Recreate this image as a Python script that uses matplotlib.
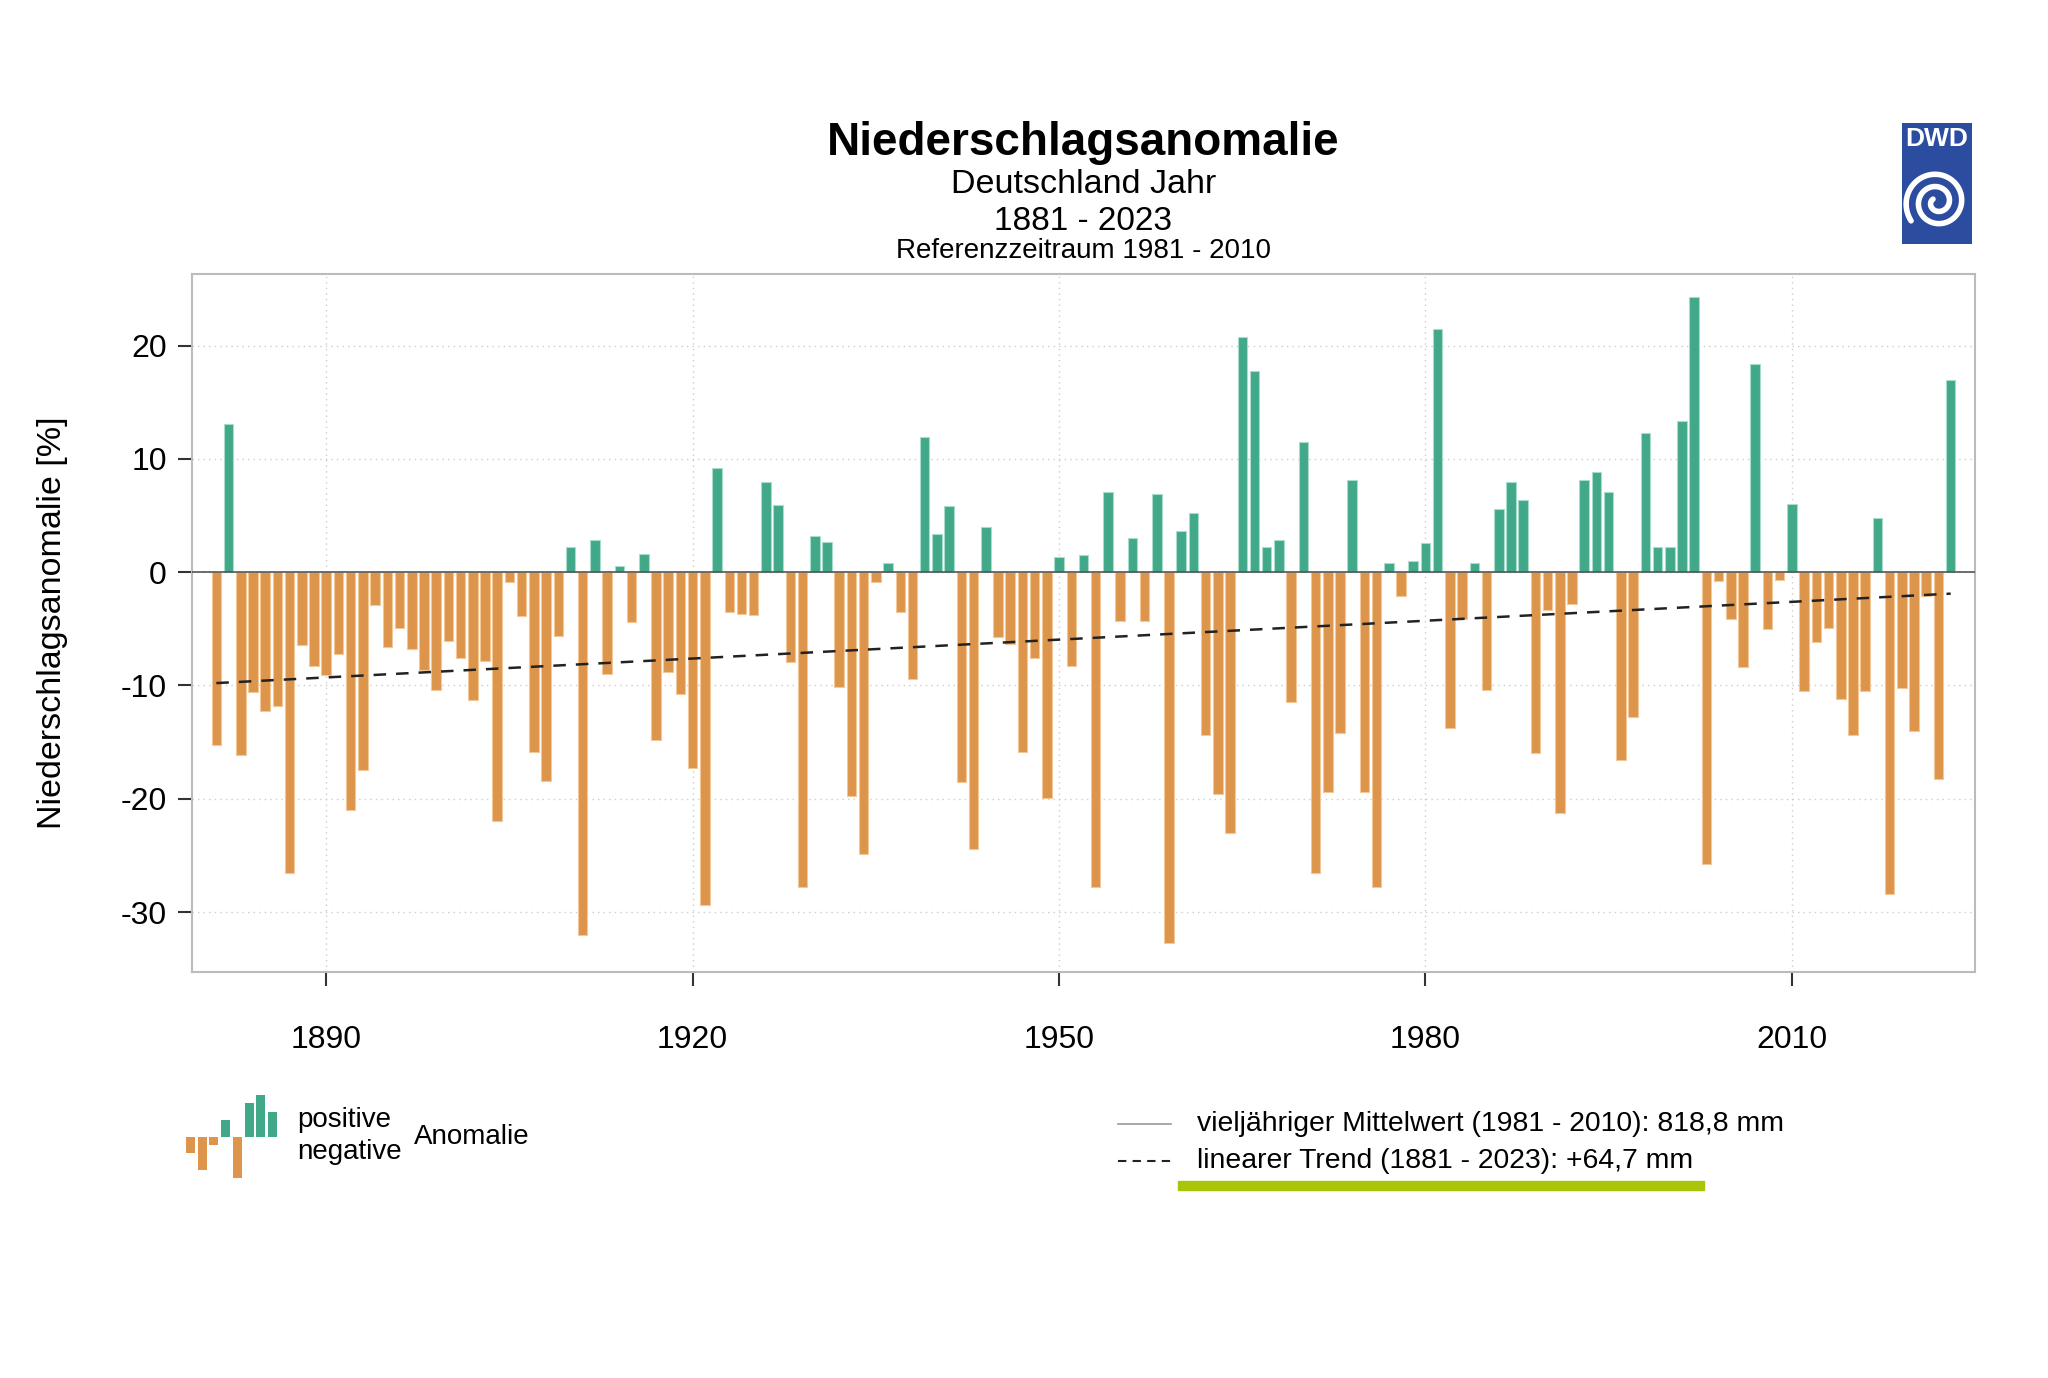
import numpy as np
import matplotlib
matplotlib.use("Agg")
import matplotlib.pyplot as plt
from matplotlib.lines import Line2D
from matplotlib.patches import Rectangle

plt.rcParams['font.family'] = ['Liberation Sans', 'DejaVu Sans']
plt.rcParams['axes.unicode_minus'] = False

# precipitation anomaly Germany, % relative to 1981-2010
years = np.arange(1881, 2024)
anomaly = [
    -15.3, 13.1, -16.1, -10.6, -12.3, -11.8, -26.6, -6.4, -8.3, -9.1,      # 1881-1890
    -7.2, -21.0, -17.5, -2.9, -6.6, -4.9, -6.8, -8.6, -10.4, -6.1,         # 1891-1900
    -7.6, -11.3, -7.8, -22.0, -0.9, -3.9, -15.9, -18.4, -5.6, 2.2,         # 1901-1910
    -32.0, 2.8, -9.0, 0.5, -4.4, 1.6, -14.8, -8.8, -10.8, -17.3,           # 1911-1920
    -29.4, 9.2, -3.5, -3.7, -3.8, 8.0, 5.9, -7.9, -27.8, 3.2,              # 1921-1930
    2.7, -10.1, -19.8, -24.9, -0.9, 0.8, -3.5, -9.4, 11.9, 3.4,            # 1931-1940
    5.8, -18.5, -24.4, 4.0, -5.7, -6.3, -15.9, -7.6, -19.9, 1.3,           # 1941-1950
    -8.3, 1.5, -27.8, 7.1, -4.3, 3.0, -4.3, 6.9, -32.7, 3.6,               # 1951-1960
    5.2, -14.4, -19.6, -23.0, 20.8, 17.8, 2.2, 2.8, -11.5, 11.5,           # 1961-1970
    -26.6, -19.4, -14.2, 8.1, -19.4, -27.8, 0.8, -2.1, 1.0, 2.6,           # 1971-1980
    21.5, -13.8, -4.1, 0.8, -10.4, 5.6, 8.0, 6.4, -16.0, -3.3,             # 1981-1990
    -21.3, -2.8, 8.1, 8.8, 7.1, -16.6, -12.8, 12.3, 2.2, 2.2,              # 1991-2000
    13.3, 24.3, -25.8, -0.8, -4.1, -8.4, 18.4, -5.0, -0.7, 6.0,            # 2001-2010
    -10.5, -6.2, -4.9, -11.2, -14.4, -10.5, 4.8, -28.4, -10.2, -14.0,      # 2011-2020
    -2.1, -18.3, 17.0,                                                     # 2021-2023
]
anomaly = np.array(anomaly)

# small sample bars of the legend icon
icon_values = [-49, -100, -24, 49, -122, 99, 122, 72]

c_pos = '#42A88A'
c_neg = '#DD954B'

fig = plt.figure(figsize=(20.48, 13.78), dpi=100)
ax = fig.add_axes([0.0937, 0.2946, 0.8707, 0.5064])

colors = [c_pos if v >= 0 else c_neg for v in anomaly]
edges = ['#A8DCCB' if v >= 0 else '#F3C899' for v in anomaly]
ax.bar(years, anomaly, width=0.78, color=colors, edgecolor=edges, linewidth=0.8, zorder=3)

# long-term mean (zero line) and linear trend
ax.axhline(0, color='#555555', lw=1.2, zorder=4)
k, d = np.polyfit(years, anomaly, 1)
ax.plot(years, k * years + d, color='#222222', lw=1.8, ls=(0, (5, 4)), zorder=5)

ax.set_xlim(1879, 2025)
ax.set_ylim(-35.3, 26.3)
ax.set_xticks([1890, 1920, 1950, 1980, 2010])
ax.set_yticks([-30, -20, -10, 0, 10, 20])
ax.grid(True, ls=(0, (1, 3)), color='#CCCCCC', lw=1, zorder=0)
ax.tick_params(axis='x', labelsize=23, length=10, width=1.5, pad=28, color='#333333')
ax.tick_params(axis='y', labelsize=23, length=10, width=1.5, pad=8, color='#333333')
for s in ax.spines.values():
    s.set_color('#BBBBBB')
    s.set_linewidth(1.5)
ax.set_ylabel('Niederschlagsanomalie [%]', fontsize=24.5)
ax.yaxis.set_label_coords(-0.0695, 0.5)

# titles
fig.text(0.529, 0.896, 'Niederschlagsanomalie', ha='center', va='center', fontsize=33, fontweight='bold')
fig.text(0.529, 0.866, 'Deutschland Jahr', ha='center', va='center', fontsize=24.5)
fig.text(0.529, 0.839, '1881 - 2023', ha='center', va='center', fontsize=24)
fig.text(0.529, 0.818, 'Referenzzeitraum 1981 - 2010', ha='center', va='center', fontsize=20)

# DWD logo
lax = fig.add_axes([1902 / 2048, 1 - 244 / 1378, 70 / 2048, 121 / 1378])
lax.set_xlim(0, 1)
lax.set_ylim(0, 1.73)
lax.add_patch(Rectangle((0, 0), 1, 1.73, color='#2B4C9F'))
lax.text(0.5, 1.5, 'DWD', color='white', fontsize=19, fontweight='bold', ha='center', va='center')
t = np.linspace(0.8 * np.pi, 5.2 * np.pi, 400)
r = 0.028 * t
lax.plot(0.5 + r * np.cos(t), 0.6 + r * np.sin(t), color='white', lw=4, solid_capstyle='round')
lax.axis('off')

# left legend: icon + text
iax = fig.add_axes([186 / 2048, 1 - 1178 / 1378, 91 / 2048, 83 / 1378])
iax.bar(range(len(icon_values)), icon_values, width=0.77,
        color=[c_pos if v > 0 else c_neg for v in icon_values])
iax.set_xlim(-0.385, 7.385)
iax.set_ylim(-123, 123)
iax.axis('off')
fig.text(0.145, 0.187, 'positive', ha='left', va='center', fontsize=20)
fig.text(0.145, 0.164, 'negative', ha='left', va='center', fontsize=20)
fig.text(0.202, 0.175, 'Anomalie', ha='left', va='center', fontsize=20)

# right legend
fig.add_artist(Line2D([1118 / 2048, 1171 / 2048], [0.1843, 0.1843], color='#999999', lw=1.2,
                      transform=fig.transFigure))
fig.add_artist(Line2D([1118 / 2048, 1171 / 2048], [0.1575, 0.1575], color='#222222', lw=1.5,
                      ls=(0, (4, 3)), transform=fig.transFigure))
fig.text(0.5845, 0.1843, 'vieljähriger Mittelwert (1981 - 2010): 818,8 mm', ha='left', va='center', fontsize=20.4)
fig.text(0.5845, 0.1575, 'linearer Trend (1881 - 2023): +64,7 mm', ha='left', va='center', fontsize=20.4)
fig.add_artist(Rectangle((1178 / 2048, 1 - 1190 / 1378), 526 / 2048, 9 / 1378,
                         color='#AAC40A', transform=fig.transFigure))

fig.savefig('out.png', dpi=100)
